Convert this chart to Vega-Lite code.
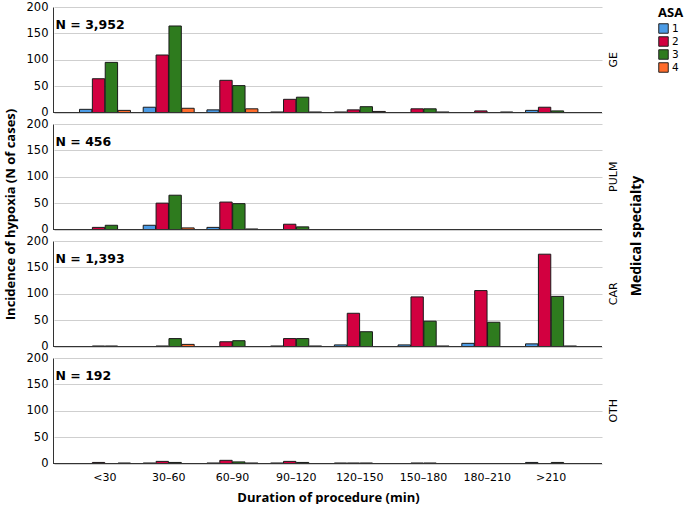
{
  "$schema": "https://vega.github.io/schema/vega-lite/v6.json",
  "padding": {"left": 5, "top": 1, "right": 0, "bottom": 0},
  "background": "white",
  "title": {"text": "Incidence of hypoxia (N of cases)", "orient": "left", "anchor": "middle", "font": "Open Sans", "fontSize": 13, "fontWeight": "bold", "color": "#000", "offset": 8, "dx": 38},
  "data": {"values": [
    {"specialty": "GE", "label": "N = 3,952"},
    {"specialty": "PULM", "label": "N = 456"},
    {"specialty": "CAR", "label": "N = 1,393"},
    {"specialty": "OTH", "label": "N = 192"},

    {"specialty": "GE", "duration": "<30", "asa": "1", "count": 6},
    {"specialty": "GE", "duration": "<30", "asa": "2", "count": 64},
    {"specialty": "GE", "duration": "<30", "asa": "3", "count": 95},
    {"specialty": "GE", "duration": "<30", "asa": "4", "count": 4},
    {"specialty": "GE", "duration": "30–60", "asa": "1", "count": 10},
    {"specialty": "GE", "duration": "30–60", "asa": "2", "count": 109},
    {"specialty": "GE", "duration": "30–60", "asa": "3", "count": 164},
    {"specialty": "GE", "duration": "30–60", "asa": "4", "count": 8},
    {"specialty": "GE", "duration": "60–90", "asa": "1", "count": 5},
    {"specialty": "GE", "duration": "60–90", "asa": "2", "count": 61},
    {"specialty": "GE", "duration": "60–90", "asa": "3", "count": 51},
    {"specialty": "GE", "duration": "60–90", "asa": "4", "count": 7},
    {"specialty": "GE", "duration": "90–120", "asa": "1", "count": 1},
    {"specialty": "GE", "duration": "90–120", "asa": "2", "count": 25},
    {"specialty": "GE", "duration": "90–120", "asa": "3", "count": 29},
    {"specialty": "GE", "duration": "90–120", "asa": "4", "count": 1},
    {"specialty": "GE", "duration": "120–150", "asa": "1", "count": 1},
    {"specialty": "GE", "duration": "120–150", "asa": "2", "count": 5},
    {"specialty": "GE", "duration": "120–150", "asa": "3", "count": 11},
    {"specialty": "GE", "duration": "120–150", "asa": "4", "count": 2},
    {"specialty": "GE", "duration": "150–180", "asa": "2", "count": 7},
    {"specialty": "GE", "duration": "150–180", "asa": "3", "count": 7},
    {"specialty": "GE", "duration": "150–180", "asa": "4", "count": 1},
    {"specialty": "GE", "duration": "180–210", "asa": "2", "count": 3},
    {"specialty": "GE", "duration": "180–210", "asa": "4", "count": 1},
    {"specialty": "GE", "duration": ">210", "asa": "1", "count": 4},
    {"specialty": "GE", "duration": ">210", "asa": "2", "count": 10},
    {"specialty": "GE", "duration": ">210", "asa": "3", "count": 3},

    {"specialty": "PULM", "duration": "<30", "asa": "2", "count": 4},
    {"specialty": "PULM", "duration": "<30", "asa": "3", "count": 8},
    {"specialty": "PULM", "duration": "30–60", "asa": "1", "count": 8},
    {"specialty": "PULM", "duration": "30–60", "asa": "2", "count": 50},
    {"specialty": "PULM", "duration": "30–60", "asa": "3", "count": 65},
    {"specialty": "PULM", "duration": "30–60", "asa": "4", "count": 3},
    {"specialty": "PULM", "duration": "60–90", "asa": "1", "count": 4},
    {"specialty": "PULM", "duration": "60–90", "asa": "2", "count": 52},
    {"specialty": "PULM", "duration": "60–90", "asa": "3", "count": 49},
    {"specialty": "PULM", "duration": "60–90", "asa": "4", "count": 1},
    {"specialty": "PULM", "duration": "90–120", "asa": "2", "count": 10},
    {"specialty": "PULM", "duration": "90–120", "asa": "3", "count": 5},

    {"specialty": "CAR", "duration": "<30", "asa": "2", "count": 1},
    {"specialty": "CAR", "duration": "<30", "asa": "3", "count": 1},
    {"specialty": "CAR", "duration": "30–60", "asa": "2", "count": 1},
    {"specialty": "CAR", "duration": "30–60", "asa": "3", "count": 15},
    {"specialty": "CAR", "duration": "30–60", "asa": "4", "count": 4},
    {"specialty": "CAR", "duration": "60–90", "asa": "2", "count": 9},
    {"specialty": "CAR", "duration": "60–90", "asa": "3", "count": 11},
    {"specialty": "CAR", "duration": "90–120", "asa": "1", "count": 1},
    {"specialty": "CAR", "duration": "90–120", "asa": "2", "count": 15},
    {"specialty": "CAR", "duration": "90–120", "asa": "3", "count": 15},
    {"specialty": "CAR", "duration": "90–120", "asa": "4", "count": 1},
    {"specialty": "CAR", "duration": "120–150", "asa": "1", "count": 3},
    {"specialty": "CAR", "duration": "120–150", "asa": "2", "count": 63},
    {"specialty": "CAR", "duration": "120–150", "asa": "3", "count": 28},
    {"specialty": "CAR", "duration": "150–180", "asa": "1", "count": 3},
    {"specialty": "CAR", "duration": "150–180", "asa": "2", "count": 94},
    {"specialty": "CAR", "duration": "150–180", "asa": "3", "count": 48},
    {"specialty": "CAR", "duration": "150–180", "asa": "4", "count": 1},
    {"specialty": "CAR", "duration": "180–210", "asa": "1", "count": 6},
    {"specialty": "CAR", "duration": "180–210", "asa": "2", "count": 106},
    {"specialty": "CAR", "duration": "180–210", "asa": "3", "count": 46},
    {"specialty": "CAR", "duration": ">210", "asa": "1", "count": 5},
    {"specialty": "CAR", "duration": ">210", "asa": "2", "count": 175},
    {"specialty": "CAR", "duration": ">210", "asa": "3", "count": 95},
    {"specialty": "CAR", "duration": ">210", "asa": "4", "count": 1},

    {"specialty": "OTH", "duration": "<30", "asa": "2", "count": 2},
    {"specialty": "OTH", "duration": "<30", "asa": "4", "count": 1},
    {"specialty": "OTH", "duration": "30–60", "asa": "1", "count": 1},
    {"specialty": "OTH", "duration": "30–60", "asa": "2", "count": 4},
    {"specialty": "OTH", "duration": "30–60", "asa": "3", "count": 2},
    {"specialty": "OTH", "duration": "60–90", "asa": "1", "count": 1},
    {"specialty": "OTH", "duration": "60–90", "asa": "2", "count": 6},
    {"specialty": "OTH", "duration": "60–90", "asa": "3", "count": 3},
    {"specialty": "OTH", "duration": "60–90", "asa": "4", "count": 1},
    {"specialty": "OTH", "duration": "90–120", "asa": "1", "count": 1},
    {"specialty": "OTH", "duration": "90–120", "asa": "2", "count": 4},
    {"specialty": "OTH", "duration": "90–120", "asa": "3", "count": 2},
    {"specialty": "OTH", "duration": "120–150", "asa": "1", "count": 1},
    {"specialty": "OTH", "duration": "120–150", "asa": "2", "count": 1},
    {"specialty": "OTH", "duration": "120–150", "asa": "3", "count": 1},
    {"specialty": "OTH", "duration": "150–180", "asa": "2", "count": 1},
    {"specialty": "OTH", "duration": "150–180", "asa": "3", "count": 1},
    {"specialty": "OTH", "duration": ">210", "asa": "1", "count": 2},
    {"specialty": "OTH", "duration": ">210", "asa": "3", "count": 2}
  ]},
  "facet": {
    "row": {
      "field": "specialty", "type": "nominal",
      "sort": ["GE", "PULM", "CAR", "OTH"],
      "title": "Medical specialty",
      "header": {
        "labelOrient": "right", "labelAngle": -90, "labelFont": "DejaVu Sans", "labelFontSize": 11, "labelColor": "#000", "labelPadding": 0,
        "titleOrient": "right", "titleAngle": -90, "titleFont": "Open Sans", "titleFontSize": 14, "titleFontWeight": "bold", "titleColor": "#000", "titlePadding": 1
      }
    }
  },
  "spacing": 11,
  "spec": {
    "width": 548,
    "height": 105.5,
    "layer": [
      {
        "transform": [{"filter": "datum.count != null"}],
        "mark": {"type": "bar", "stroke": "#1a1a1a", "strokeWidth": 1},
        "encoding": {
          "x": {
            "field": "duration", "type": "nominal",
            "scale": {"domain": ["<30", "30–60", "60–90", "90–120", "120–150", "150–180", "180–210", ">210"], "paddingInner": 0.2, "paddingOuter": 0.4},
            "axis": {"title": "Duration of procedure (min)"}
          },
          "xOffset": {"field": "asa", "type": "nominal", "scale": {"domain": ["1", "2", "3", "4"], "paddingInner": 0.04}},
          "y": {"field": "count", "type": "quantitative", "scale": {"domain": [0, 200]}, "axis": {"title": null, "values": [0, 50, 100, 150, 200], "labelOverlap": false}},
          "color": {
            "field": "asa", "type": "nominal",
            "scale": {"domain": ["1", "2", "3", "4"], "range": ["#4B9BE6", "#D20040", "#2E7B1E", "#FF6C2C"]},
            "legend": {"title": "ASA", "rowPadding": -3.5, "symbolSize": 90, "labelFontSize": 10.5, "offset": 14}
          }
        }
      },
      {
        "transform": [{"filter": "datum.label != null"}],
        "mark": {"type": "rule", "color": "#333333", "strokeWidth": 1},
        "encoding": {"y": {"datum": 0, "axis": {"title": null, "values": [0, 50, 100, 150, 200], "labelOverlap": false}}}
      },
      {
        "transform": [{"filter": "datum.label != null"}],
        "mark": {"type": "text", "align": "left", "baseline": "middle", "dx": -24, "font": "DejaVu Sans", "fontSize": 12.5, "fontWeight": "bold", "color": "#000"},
        "encoding": {
          "x": {"datum": "<30", "bandPosition": 0},
          "y": {"datum": 166, "axis": {"title": null, "values": [0, 50, 100, 150, 200], "labelOverlap": false}},
          "text": {"field": "label"}
        }
      }
    ]
  },
  "config": {
    "view": {"stroke": null},
    "axisY": {
      "labelFont": "DejaVu Sans", "labelFontSize": 11.5, "labelColor": "#000", "labelOverlap": false,
      "domainColor": "#333333", "ticks": false, "labelPadding": 5,
      "gridColor": "#cfcfcf", "gridWidth": 1.2
    },
    "axisX": {
      "labelFont": "DejaVu Sans", "labelFontSize": 11, "labelColor": "#000", "labelAngle": 0,
      "domain": false, "ticks": false, "grid": false, "labelPadding": 7,
      "titleFont": "Open Sans", "titleFontSize": 13, "titleFontWeight": "bold", "titleColor": "#000", "titlePadding": 9
    },
    "legend": {
      "titleFont": "Open Sans", "titleFontSize": 13, "titleFontWeight": "bold", "titleColor": "#000", "titlePadding": 3,
      "labelFont": "DejaVu Sans", "labelColor": "#000", "labelOffset": 3,
      "symbolType": "square", "symbolStrokeColor": "#222", "symbolStrokeWidth": 1, "symbolOpacity": 1
    }
  }
}
